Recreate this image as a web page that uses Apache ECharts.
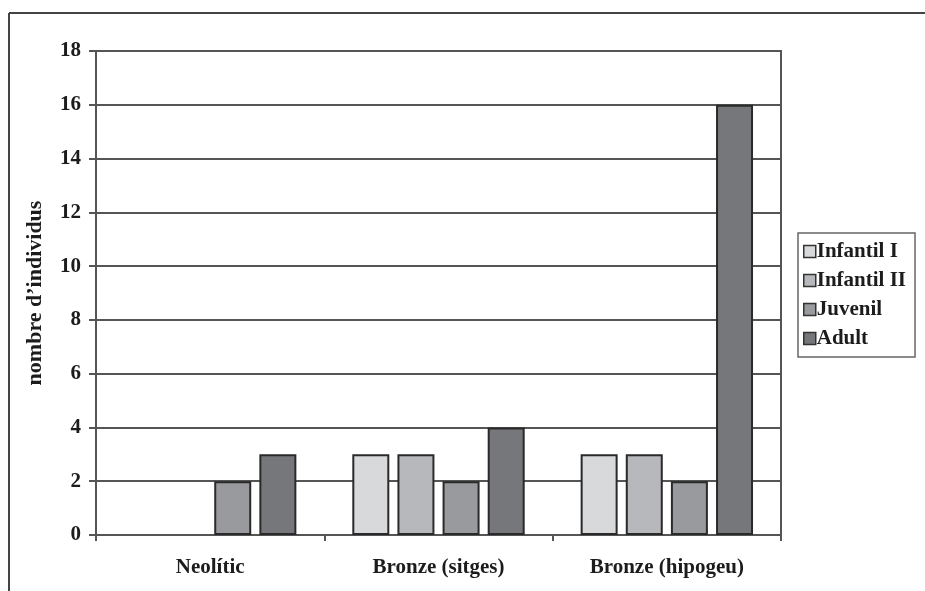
<!DOCTYPE html>
<html><head><meta charset="utf-8">
<script src="https://cdn.jsdelivr.net/npm/echarts@6/dist/echarts.min.js"></script>
<style>html,body{margin:0;padding:0;background:#fff}#c{width:925px;height:591px}</style>
</head><body><div id="c"></div>
<script>
const categories = ['Neolític', 'Bronze (sitges)', 'Bronze (hipogeu)'];
const seriesNames = ['Infantil I', 'Infantil II', 'Juvenil', 'Adult'];
const infantilI = [0, 3, 3];
const infantilII = [0, 3, 3];
const juvenil = [2, 2, 2];
const adult = [3, 4, 16];
const yTicks = [0, 2, 4, 6, 8, 10, 12, 14, 16, 18];
const colors = ['#d8d9db', '#b7b8bb', '#999a9d', '#76777a'];
const values = [infantilI, infantilII, juvenil, adult];

const font = '"Liberation Serif", "Times New Roman", serif';
const txt = '#1c1c1c';
const chart = echarts.init(document.getElementById('c'));
chart.setOption({
  animation: false,
  backgroundColor: '#fff',
  grid: { left: 96, right: 144, top: 51, bottom: 56, show: true, borderColor: '#555', borderWidth: 2, backgroundColor: 'transparent' },
  legend: {
    data: seriesNames,
    orient: 'vertical',
    left: 798, top: 233,
    padding: [8, 9, 8, 5],
    itemGap: 8,
    itemWidth: 12, itemHeight: 12,
    icon: 'rect',
    backgroundColor: '#fff',
    borderColor: '#666', borderWidth: 1.5, borderRadius: 0,
    textStyle: { fontFamily: font, fontWeight: 'bold', fontSize: 21, color: txt, padding: [0,0,0,-4] },
    itemStyle: { borderColor: '#333', borderWidth: 1.5 }
  },
  xAxis: {
    type: 'category', data: categories,
    axisLine: { lineStyle: { color: '#555', width: 2 } },
    axisTick: { show: true, length: 6, lineStyle: { color: '#555', width: 2 } },
    axisLabel: { fontFamily: font, fontWeight: 'bold', fontSize: 21, color: txt, margin: 22 }
  },
  yAxis: {
    type: 'value', min: 0, max: 18, interval: 2,
    name: "nombre d’individus", nameLocation: 'middle', nameGap: 50,
    nameTextStyle: { fontFamily: font, fontWeight: 'bold', fontSize: 22, color: txt },
    axisLine: { show: true, lineStyle: { color: '#555', width: 2 } },
    axisTick: { show: true, length: 7, lineStyle: { color: '#555', width: 2 } },
    axisLabel: { fontFamily: font, fontWeight: 'bold', fontSize: 21, color: txt, margin: 15,
      formatter: v => yTicks.includes(v) ? String(v) : '' },
    splitLine: { show: true, lineStyle: { color: '#555', width: 2 } }
  },
  series: seriesNames.map((n, i) => ({
    name: n, type: 'bar', data: values[i].map(v => v === 0 ? '-' : v),
    barGap: '22%', barCategoryGap: '24.5%',
    itemStyle: { color: colors[i], borderColor: '#2a2a2a', borderWidth: 2 }
  })),
  graphic: [
    { type: 'line', shape: { x1: 9, y1: 13, x2: 925, y2: 13 }, style: { stroke: '#444', lineWidth: 2 } },
    { type: 'line', shape: { x1: 9, y1: 13, x2: 9, y2: 591 }, style: { stroke: '#444', lineWidth: 2 } }
  ]
});
</script></body></html>
